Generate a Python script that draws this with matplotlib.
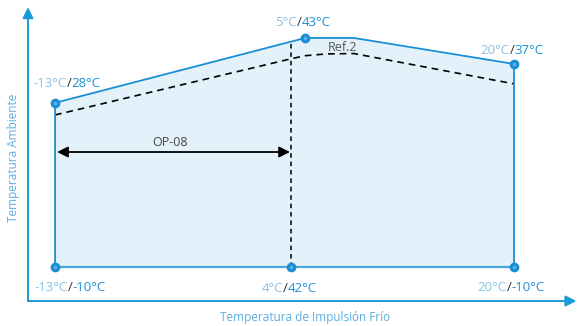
import matplotlib
matplotlib.use("Agg")
import matplotlib.pyplot as plt
from matplotlib.offsetbox import TextArea, HPacker, AnnotationBbox

plt.rcParams['font.family'] = ['Open Sans', 'DejaVu Sans']

# Envelope (supply temperature x, ambient temperature y)
env_x = [-13, -13, 5, 8.5, 20, 20]
env_y = [-10, 28, 43, 43, 37, -10]
bottom_y = -10

# Reference curve "Ref.2"
ref2_x = [-13, 4, 5, 6.5, 8.5, 20]
ref2_y = [25.2, 38.2, 38.9, 39.3, 39.4, 32.4]

# Vertical limit line OP-08
op_x = 4
op_top = 42.2

# Labelled points: (x, y, first part, second part, offset in points)
pt_x = [-13, 5, 20, -13, 4, 20]
pt_y = [28, 43, 37, -10, -10, -10]
lbl_a = ['-13°C', '5°C', '20°C', '-13°C', '4°C', '20°C']
lbl_b = ['28°C', '43°C', '37°C', '-10°C', '42°C', '-10°C']
lbl_off = [(8.6, 14.0), (-1.4, 11.0), (-1.4, 10.0), (10.8, -14.4), (-1.4, -15.0), (-2.0, -14.4)]

BLUE = '#1a8fd6'
LIGHT = '#86c1e8'
FILL = '#e3f1fb'
DARK = '#333333'

fig = plt.figure(figsize=(5.77, 3.26), dpi=100)
ax = fig.add_axes([0, 0, 1, 1])
ax.set_xlim(-16.96, 24.55)
ax.set_ylim(-23.57, 51.77)
ax.axis('off')

# fill + outline
ax.fill(env_x, env_y, color=FILL, zorder=1, lw=0)
ax.plot(env_x[:-1], env_y[:-1], color=BLUE, lw=1.3, zorder=3)
ax.plot(env_x[-2:], env_y[-2:], color=BLUE, lw=1.3, zorder=3)
ax.plot([env_x[0], env_x[-1]], [bottom_y, bottom_y], color='#4aa6de', lw=1.6, zorder=3)

# reference dashed curve
ax.plot(ref2_x, ref2_y, color='black', lw=1.2, ls=(0, (4, 3)), zorder=2)
ax.text(7.7, 40.9, 'Ref.2', color='#555555', fontsize=9, ha='center', va='center', zorder=4)

# vertical dashed line
ax.plot([op_x, op_x], [bottom_y, op_top], color='black', lw=1.1, ls=(0, (3, 2.5)), zorder=2)

# OP-08 arrow
ax.annotate('', xy=(-12.85, 16.64), xytext=(op_x - 0.1, 16.64),
            arrowprops=dict(arrowstyle='<|-|>', color='black', lw=1.3, mutation_scale=16,
                            shrinkA=0, shrinkB=0), zorder=4)
ax.text(-4.73, 18.9, 'OP-08', color='#444444', fontsize=9, ha='center', va='center', zorder=4)

# points
ax.plot(pt_x, pt_y, 'o', color=BLUE, ms=6, zorder=5)
ax.plot(pt_x, pt_y, 'o', color='#5fb3e6', ms=1.5, zorder=6)

# labels
for x, y, a, b, off in zip(pt_x, pt_y, lbl_a, lbl_b, lbl_off):
    pack = HPacker(children=[TextArea(a, textprops=dict(color=LIGHT, fontsize=9.5)),
                             TextArea('/', textprops=dict(color=DARK, fontsize=9.5)),
                             TextArea(b, textprops=dict(color=BLUE, fontsize=9.5))],
                   pad=0, sep=0, align='baseline')
    ab = AnnotationBbox(pack, (x, y), xybox=off, xycoords='data', boxcoords='offset points',
                        frameon=False, box_alignment=(0.5, 0.5), pad=0)
    ax.add_artist(ab)

# axes with arrows (axes fraction)
ax.annotate('', xy=(0.0485, 0.978), xytext=(0.0485, 0.0767), xycoords='axes fraction',
            textcoords='axes fraction',
            arrowprops=dict(arrowstyle='-|>', color='#1a9ad9', lw=1.4, mutation_scale=16,
                            shrinkA=0, shrinkB=0))
ax.annotate('', xy=(0.999, 0.0767), xytext=(0.0485, 0.0767), xycoords='axes fraction',
            textcoords='axes fraction',
            arrowprops=dict(arrowstyle='-|>', color='#1a9ad9', lw=1.4, mutation_scale=16,
                            shrinkA=0, shrinkB=0))

fig.text(14 / 577, 1 - 158 / 326, 'Temperatura Ambiente', rotation=90, color='#5aaee2',
         fontsize=8.5, ha='center', va='center')
fig.text(305 / 577, 1 - 318 / 326, 'Temperatura de Impulsión Frío', color='#5aaee2',
         fontsize=8.5, ha='center', va='center')

fig.savefig('out.png', dpi=100)
